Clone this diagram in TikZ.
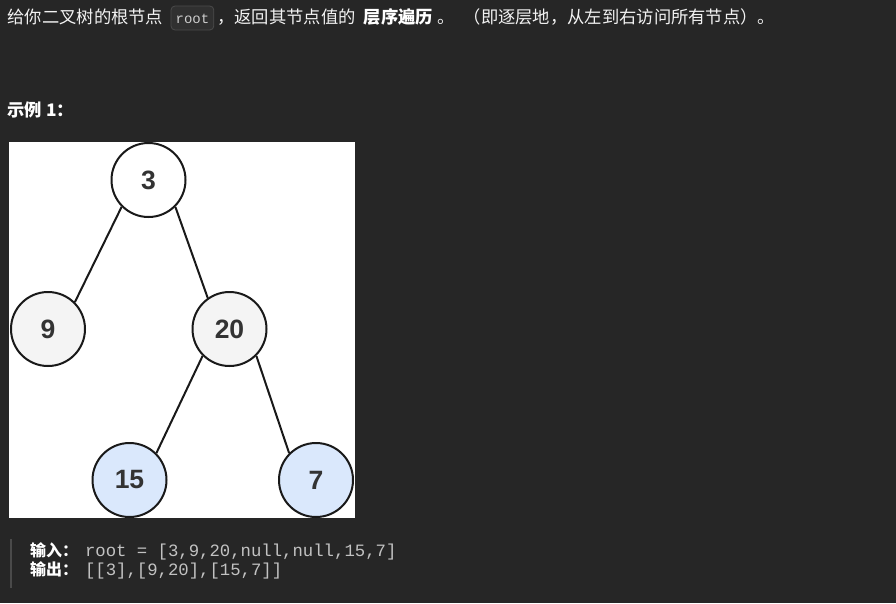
\documentclass[tikz,border=0pt]{standalone}
\usepackage{fontspec}
\setmainfont{Noto Sans CJK SC}
\setmonofont{Liberation Mono}
\newfontfamily\digitfont{Liberation Sans}
\usepackage{tikz}
\usetikzlibrary{positioning}
\definecolor{pagebg}{HTML}{262626}
\definecolor{textwhite}{HTML}{F2F2F2}
\definecolor{codegrey}{HTML}{C2C2C2}
\definecolor{chipfill}{HTML}{303030}
\definecolor{chipline}{HTML}{4B4B4B}
\definecolor{quotebar}{HTML}{4A4A4A}
\definecolor{digitgrey}{HTML}{333333}
\definecolor{nodegrey}{HTML}{F4F4F4}
\definecolor{nodeblue}{HTML}{DAE8FC}

\begin{document}
\begin{tikzpicture}[x=1pt,y=-1pt]
\tikzset{
  txt/.style={inner sep=0pt,outer sep=0pt,text=textwhite,font=\fontsize{17.3}{20}\selectfont},
  smalltxt/.style={inner sep=0pt,outer sep=0pt,text=white,font=\fontsize{16}{19}\selectfont\bfseries},
  chip/.style={draw=chipline,fill=chipfill,line width=0.8pt,rounded corners=4pt,outer sep=0pt,
    inner xsep=4.6pt,inner ysep=3pt,text height=14pt,text depth=4pt,text=textwhite!85!black,
    font=\ttfamily\fontsize{14}{16}\selectfont},
  code/.style={inner sep=0pt,outer sep=0pt,text=codegrey,font=\ttfamily\fontsize{17.3}{20}\selectfont},
  tree/.style={circle,draw=black!90,line width=2pt,minimum size=74pt,inner sep=0pt,
    text=digitgrey,font=\digitfont\fontsize{26.5}{26}\selectfont\bfseries},
  edge/.style={draw=black!90,line width=2pt}
}
\useasboundingbox[fill=pagebg] (0,0) rectangle (896,603);

% question text
\node[txt,anchor=base west] (intro) at (7.5,23) {给你二叉树的根节点};
\node[chip,base right=7.8pt of intro] (rootchip) {root};
\node[txt,base right=3.5pt of rootchip] (ask) {，返回其节点值的};
\node[txt,font=\fontsize{17.3}{20}\selectfont\bfseries,text=white,base right=8pt of ask] (order) {层序遍历};
\node[txt,base right=4.8pt of order] (stop) {。};
\node[txt,base right=8.7pt of stop] (hint) {（即逐层地，从左到右访问所有节点）。};

\node[txt,font=\fontsize{17.3}{20}\selectfont\bfseries,text=white,anchor=base west] (example) at (7.5,116) {示例 1：};

% tree picture
\fill[white] (9,142) rectangle (355,518);
\begin{scope}[on grid]
  \node[tree,fill=white] (n3) at (148.5,180) {3};
  \node[tree,fill=nodegrey] (n9) [below left=149pt and 100.5pt of n3] {9};
  \node[tree,fill=nodegrey] (n20) [below right=149pt and 81pt of n3] {20};
  \node[tree,fill=nodeblue] (n15) [below left=151pt and 100pt of n20] {15};
  \node[tree,fill=nodeblue] (n7) [below right=151pt and 86.5pt of n20] {7};
\end{scope}
  \path[edge] (n3.225) -- (n9.45);
  \path[edge] (n3.-45) -- (n20.125);
  \path[edge] (n20.225) -- (n15.45);
  \path[edge] (n20.-45) -- (n7.135);

% input / output
\fill[quotebar] (10,539) rectangle (12,588);
\node[smalltxt,anchor=base west] (inlabel) at (30,556) {输入：};
\node[code,base right=7pt of inlabel] (inval) {root = [3,9,20,null,null,15,7]};
\node[smalltxt,anchor=base west] (outlabel) at (30,575) {输出：};
\node[code,base right=7pt of outlabel] (outval) {[[3],[9,20],[15,7]]};
\end{tikzpicture}
\end{document}
